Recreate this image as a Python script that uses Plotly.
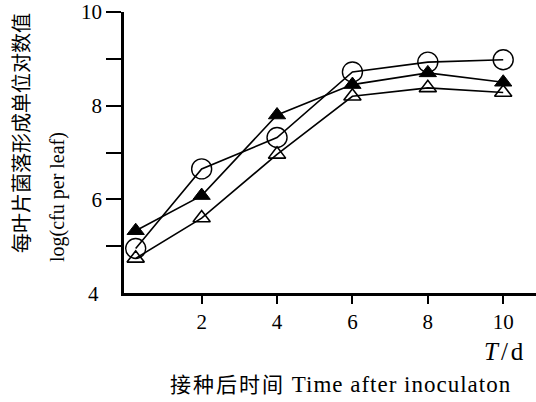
import plotly.graph_objects as go

days = [0.25, 2, 4, 6, 8, 10]
circle_vals = [4.95, 6.65, 7.32, 8.72, 8.93, 8.98]
filled_tri_vals = [5.33, 6.08, 7.80, 8.45, 8.70, 8.50]
open_tri_vals = [4.74, 5.60, 6.96, 8.20, 8.38, 8.28]

x_ticks = [2, 4, 6, 8, 10]
y_ticks = [5, 6, 7, 8, 9, 10]
y_ticktext = ["", "6", "", "8", "", "10"]

W, H = 536, 402
L, R, T, B = 124, 0, 12, 109
pw, ph = W - L - R, H - T - B

fig = go.Figure()
serif = "Liberation Serif"
cjk = "Noto Sans CJK SC"

fig.add_trace(go.Scatter(x=days, y=open_tri_vals, mode="lines+markers",
                         line=dict(color="black", width=1.6),
                         marker=dict(symbol="triangle-up-open", size=15, color="black",
                                     line=dict(width=1.6, color="black"))))
fig.add_trace(go.Scatter(x=days, y=filled_tri_vals, mode="lines+markers",
                         line=dict(color="black", width=1.6),
                         marker=dict(symbol="triangle-up", size=15, color="black",
                                     line=dict(width=1, color="black"))))
fig.add_trace(go.Scatter(x=days, y=circle_vals, mode="lines+markers",
                         line=dict(color="black", width=1.6),
                         marker=dict(symbol="circle-open", size=20, color="black",
                                     line=dict(width=1.4, color="black"))))

fig.update_layout(
    width=W, height=H,
    margin=dict(l=L, r=R, t=T, b=B),
    paper_bgcolor="white", plot_bgcolor="white",
    showlegend=False,
    font=dict(family=serif, size=21, color="black"),
    xaxis=dict(range=[-0.06, 10.87], tickvals=x_ticks, ticks="outside", ticklen=8,
               tickwidth=2, tickcolor="black", showline=True, linecolor="black",
               linewidth=2.5, showgrid=False, zeroline=False, automargin=False,
               tickfont=dict(family=serif, size=21, color="black")),
    yaxis=dict(range=[4, 10], tickvals=y_ticks, ticktext=y_ticktext, ticks="outside",
               ticklen=15, tickwidth=2, tickcolor="black", showline=True,
               linecolor="black", linewidth=2.5, showgrid=False, zeroline=False,
               automargin=False,
               tickfont=dict(family=serif, size=21, color="black")),
)

def ann(text, px, py, size, family, angle=0, xanchor="center"):
    fig.add_annotation(text=text, xref="paper", yref="paper",
                       x=(px - L) / pw, y=(H - B - py) / ph,
                       xanchor=xanchor, yanchor="middle", showarrow=False,
                       textangle=angle, font=dict(family=family, size=size, color="black"))

ann("4", 93, 294, 21, serif, xanchor="center")
ann("每叶片菌落形成单位对数值", 20, 133, 20, cjk, angle=-90)
ann("log(cfu per leaf)", 57, 197, 20, serif, angle=-90)
ann("<span style='letter-spacing:3px'><i>T</i>/d</span>", 528, 351, 25, serif, xanchor="right")
ann("<span style='font-family:Noto Sans CJK SC;font-size:21px;letter-spacing:2px'>接种后时间</span>"
    "<span style='letter-spacing:1px'> Time after inoculaton</span>", 340, 383, 23, serif)

fig.write_html("out.html", config={"displayModeBar": False},
               post_script="document.body.style.margin='0px';")
